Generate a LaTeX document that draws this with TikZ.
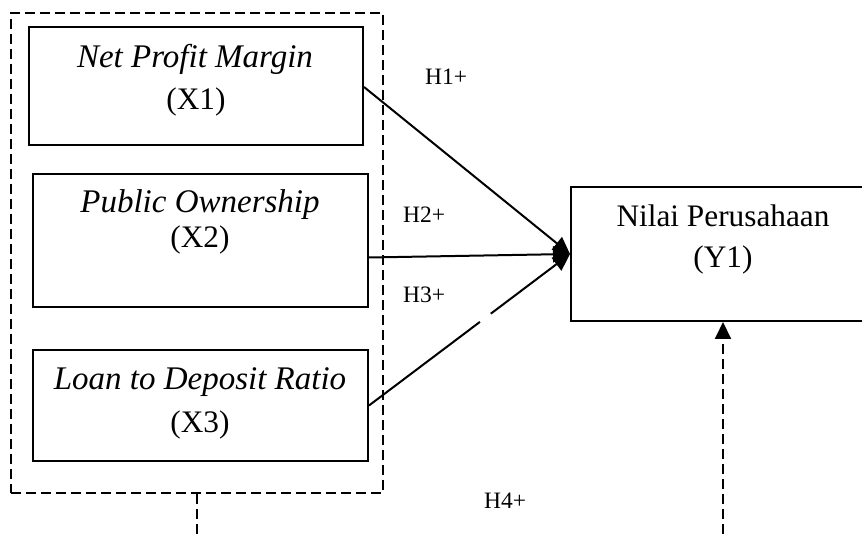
\documentclass[tikz,border=0pt]{standalone}
\usepackage{fontspec}
\setmainfont{Liberation Serif}
\usetikzlibrary{arrows.meta,calc}
\begin{document}
\begin{tikzpicture}[x=1pt,y=-1pt,
  box/.style={draw,line width=2pt,inner sep=0pt,rectangle},
  lbl/.style={font=\fontsize{31.3}{34}\selectfont,anchor=base,inner sep=0pt},
  ilbl/.style={lbl,font=\fontsize{33}{36}\selectfont\itshape},
  hyp/.style={font=\fontsize{23.5}{26}\selectfont,anchor=base west,inner sep=0pt},
  tipstyle/.style={-{Triangle[length=17pt,width=16pt]}},
  conn/.style={line width=2pt,tipstyle},
  dashline/.style={line width=2pt,dash pattern=on 10pt off 5pt}]
\useasboundingbox (0,0) rectangle (862,534);
\begin{scope}
\clip (0,0) rectangle (862,534);
% outer dashed group
\node[box,dashline,minimum width=372pt,minimum height=480pt] (outer) at (197,253) {};
% variable boxes
\node[box,minimum width=334pt,minimum height=118pt] (x1) at (196,86) {};
\node[box,minimum width=335pt,minimum height=133pt] (x2) at (200.5,240.5) {};
\node[box,minimum width=335pt,minimum height=111pt] (x3) at (200.5,405.5) {};
\node[box,minimum width=304pt,minimum height=134pt] (y1) at (723,254) {};
\end{scope}
% texts
\node[ilbl] (t1a) at (195,68) {Net Profit Margin};
\node[lbl] (t1b) at (196,110) {(X1)};
\node[ilbl] (t2a) at (200,213) {Public Ownership};
\node[lbl] (t2b) at (200,248) {(X2)};
\node[ilbl] (t3a) at (200,390) {Loan to Deposit Ratio};
\node[lbl] (t3b) at (200,432) {(X3)};
\node[lbl] (tya) at (723,227) {Nilai Perusahaan};
\node[lbl] (tyb) at (723,268) {(Y1)};
% hypothesis labels
\node[hyp] (h1) at (425,85) {H1+};
\node[hyp] (h2) at (403,223) {H2+};
\node[hyp] (h3) at (403,303) {H3+};
\node[hyp] (h4) at (484,508) {H4+};
% connectors
\draw[conn] ([yshift=-1pt]x1.east) -- (y1.west);
\draw[conn] ([yshift=-17pt]x2.east) -- (y1.west);
\draw[line width=2pt] (x3.east) -- ($(x3.east)!0.552!(y1.west)$);
\draw[conn] ($(x3.east)!0.606!(y1.west)$) -- (y1.west);
% bottom dashed links
\coordinate (bl) at (197,534);
\coordinate (br) at (723,534);
\draw[dashline] (outer.south) -- (bl);
\draw[dashline,tipstyle] (br) -- (y1.south);
\end{tikzpicture}
\end{document}
